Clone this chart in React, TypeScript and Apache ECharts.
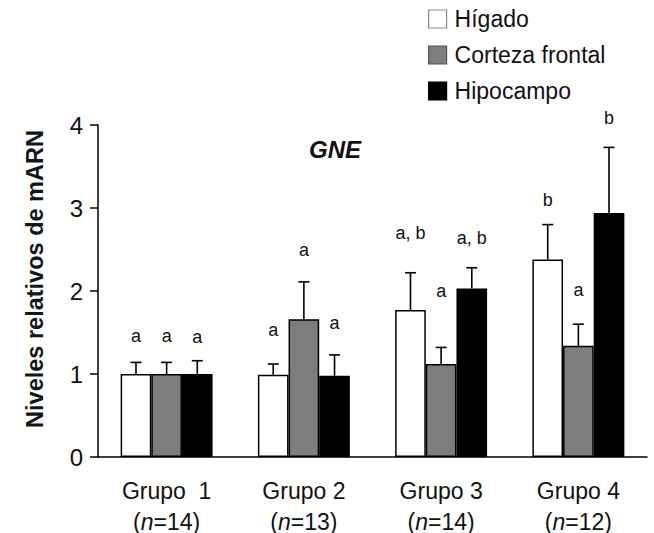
import React, { useEffect, useRef } from "react";
import * as echarts from "echarts";

// Groups on the x axis and the number of animals in each
const categories = ["Grupo  1", "Grupo 2", "Grupo 3", "Grupo 4"];
const groupSizes = [14, 13, 14, 12];

// Tissues (series names)
const tissues = ["Hígado", "Corteza frontal", "Hipocampo"];

// Mean relative mRNA level per group
const higadoMean = [1.0, 0.99, 1.77, 2.38];
const cortezaMean = [1.0, 1.66, 1.12, 1.34];
const hipocampoMean = [1.0, 0.98, 2.03, 2.94];

// Standard error (upper whisker only)
const higadoSem = [0.14, 0.13, 0.45, 0.42];
const cortezaSem = [0.14, 0.45, 0.2, 0.26];
const hipocampoSem = [0.16, 0.25, 0.25, 0.79];

// Significance letters above each bar
const higadoLetters = ["a", "a", "a, b", "b"];
const cortezaLetters = ["a", "a", "a", "a"];
const hipocampoLetters = ["a", "a", "a, b", "b"];

const yTicks = [0, 1, 2, 3, 4];

// Layout / style constants
const FONT = "'Liberation Sans', Arial, Helvetica, sans-serif";
const barColors = ["#ffffff", "#7d7d7d", "#000000"];
const legendBorders = ["#8a8a8a", "#555555", "#000000"];
const CATEGORY_GAP = 0.33;
// vertical distance (px) from whisker cap to the centre of each letter
const letterLift = [
  [26, 34, 40, 25],
  [26, 32, 56, 34],
  [24, 32, 30, 29],
];

export default function App() {
  const ref = useRef<HTMLDivElement>(null);

  useEffect(() => {
    if (!ref.current) return;
    const chart = echarts.init(ref.current, null, { renderer: "svg" });

    const means = [higadoMean, cortezaMean, hipocampoMean];
    const sems = [higadoSem, cortezaSem, hipocampoSem];
    const letters = [higadoLetters, cortezaLetters, hipocampoLetters];

    // one entry per bar: [category, series, mean, mean + sem]
    const whiskerData: number[][] = [];
    const whiskerLetters: string[] = [];
    means.forEach((m, s) =>
      m.forEach((v, c) => {
        whiskerData.push([c, s, v, v + sems[s][c]]);
        whiskerLetters.push(letters[s][c]);
      })
    );

    const barSeries = tissues.map((name, s) => ({
      name,
      type: "bar",
      data: means[s],
      barGap: "0%",
      barCategoryGap: `${CATEGORY_GAP * 100}%`,
      itemStyle: {
        color: barColors[s],
        borderColor: "#000",
        borderWidth: 1.5,
      },
      emphasis: { disabled: true },
      z: 2,
    }));

    const whiskers = {
      type: "custom",
      name: "sem",
      data: whiskerData,
      encode: { x: 0, y: 3 },
      clip: false,
      z: 5,
      renderItem: (params: any, api: any) => {
        const cat = api.value(0);
        const s = api.value(1);
        const mean = api.value(2);
        const upper = api.value(3);
        const catWidth = api.size([1, 0])[0];
        const bw = (catWidth * (1 - CATEGORY_GAP)) / 3;
        const xc = api.coord([cat, 0])[0] + (s - 1) * bw;
        const yTop = api.coord([cat, mean])[1];
        const yCap = api.coord([cat, upper])[1];
        const capHalf = 5.5;
        const lineStyle = { stroke: "#000", lineWidth: 1.6 };
        return {
          type: "group",
          children: [
            {
              type: "line",
              shape: { x1: xc, y1: yTop, x2: xc, y2: yCap },
              style: lineStyle,
            },
            {
              type: "line",
              shape: { x1: xc - capHalf, y1: yCap, x2: xc + capHalf, y2: yCap },
              style: lineStyle,
            },
            {
              type: "text",
              x: xc,
              y: yCap - letterLift[s][cat],
              style: {
                text: whiskerLetters[params.dataIndex],
                align: "center",
                verticalAlign: "middle",
                fontSize: 18,
                fontFamily: FONT,
                fill: "#111",
              },
            },
          ],
        };
      },
    };

    const axisLineStyle = { color: "#000", width: 1.5 };
    const labelRich = {
      g: { fontSize: 23, lineHeight: 31, color: "#111", fontFamily: FONT },
      p: { fontSize: 23, lineHeight: 31, color: "#111", fontFamily: FONT },
      i: {
        fontSize: 23,
        lineHeight: 31,
        color: "#111",
        fontStyle: "italic",
        fontFamily: FONT,
      },
    };

    chart.setOption({
      animation: false,
      textStyle: { fontFamily: FONT },
      grid: { left: 98, right: 7, top: 125, bottom: 76, containLabel: false },
      legend: {
        orient: "vertical",
        left: 428,
        top: 6,
        padding: 0,
        itemWidth: 18,
        itemHeight: 18,
        itemGap: 10,
        icon: "rect",
        selectedMode: false,
        textStyle: {
          fontSize: 23,
          lineHeight: 26,
          color: "#111",
          fontFamily: FONT,
          padding: [0, 0, 0, 3],
        },
        data: tissues.map((name, s) => ({
          name,
          itemStyle: {
            color: barColors[s],
            borderColor: legendBorders[s],
            borderWidth: 1.2,
          },
        })),
      },
      xAxis: {
        type: "category",
        data: categories,
        axisLine: { lineStyle: axisLineStyle },
        axisTick: { length: 8, lineStyle: axisLineStyle },
        axisLabel: {
          margin: 18,
          interval: 0,
          formatter: (value: string, index: number) =>
            `{g|${value}}\n{p|(}{i|n}{p|=${groupSizes[index]})}`,
          rich: labelRich,
        },
      },
      yAxis: {
        type: "value",
        min: yTicks[0],
        max: yTicks[yTicks.length - 1],
        interval: 1,
        splitLine: { show: false },
        axisLine: { show: true, lineStyle: axisLineStyle },
        axisTick: { show: true, length: 8, lineStyle: axisLineStyle },
        axisLabel: { fontSize: 24, color: "#111", margin: 15, fontFamily: FONT },
      },
      graphic: [
        {
          type: "text",
          x: 335,
          y: 149,
          style: {
            text: "GNE",
            align: "center",
            verticalAlign: "middle",
            fontSize: 24,
            fontWeight: "bold",
            fontStyle: "italic",
            fontFamily: FONT,
            fill: "#111",
          },
        },
        {
          type: "text",
          x: 35,
          y: 279,
          rotation: Math.PI / 2,
          style: {
            text: "Niveles relativos de mARN",
            align: "center",
            verticalAlign: "middle",
            fontSize: 23.5,
            fontWeight: "bold",
            fontFamily: FONT,
            fill: "#151515",
          },
        },
      ],
      series: [...barSeries, whiskers],
    });

    return () => chart.dispose();
  }, []);

  return (
    <div
      ref={ref}
      style={{ position: "fixed", left: 0, top: 0, width: 654, height: 533, background: "#fff" }}
    />
  );
}
